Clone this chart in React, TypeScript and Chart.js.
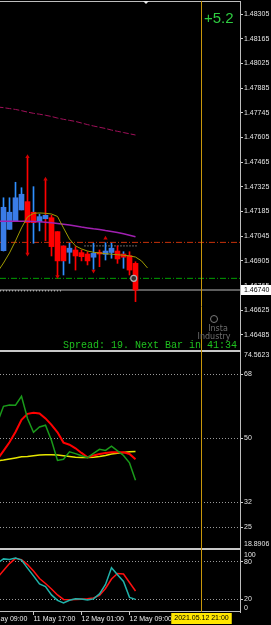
import React, { useEffect, useRef } from 'react';
import { Chart, registerables } from 'chart.js';

Chart.register(...registerables);

// ---------------- data ----------------
// H1 bars, bar index 0 = 2021.05.11 12:00
const xTickBars = [-3, 5, 13, 21];
const xTickLabels = ['11 May 09:00', '11 May 17:00', '12 May 01:00', '12 May 09:00'];
const cursorBar = 33;
const cursorLabel = '2021.05.12 21:00';
const shiftMarkerBar = 23.75;
const xMin = -0.5833;
const xMax = 39.4167;

const opens = [1.46963, 1.47084, 1.47131, 1.47194, 1.47241, 1.47181, 1.47127, 1.47144, 1.4715, 1.47071, 1.4699, 1.46954, 1.46967, 1.46952, 1.46944, 1.46926, 1.46954, 1.46942, 1.46953, 1.46961, 1.46944, 1.46935, 1.46891];
const highs = [1.47263, 1.47263, 1.47351, 1.4732, 1.47496, 1.47326, 1.47171, 1.47368, 1.47164, 1.47071, 1.4699, 1.47005, 1.46986, 1.46967, 1.46957, 1.47005, 1.46967, 1.47008, 1.47005, 1.4699, 1.46957, 1.46957, 1.469];
const lows = [1.46961, 1.47084, 1.47131, 1.47194, 1.46944, 1.47005, 1.47075, 1.4702, 1.46933, 1.46816, 1.46825, 1.46891, 1.46853, 1.46905, 1.46882, 1.46857, 1.46872, 1.4691, 1.4692, 1.46891, 1.46863, 1.46825, 1.46674];
const closes = [1.47209, 1.47181, 1.47263, 1.47283, 1.47122, 1.47122, 1.47156, 1.47164, 1.46986, 1.46905, 1.46905, 1.46977, 1.46933, 1.46929, 1.46905, 1.46948, 1.46944, 1.46961, 1.46977, 1.46916, 1.46926, 1.46853, 1.4674];
const blueWickBars = [5, 10, 20];
const redWickBars = [7];

const fractalUpBars = [4, 7, 17];
const fractalUpValues = [1.47496, 1.47368, 1.47033];
const fractalDownBars = [4, 9, 15];
const fractalDownValues = [1.46944, 1.46816, 1.46848];

const firstIndicatorBar = -1;
const maSlow = [1.47778, 1.47774, 1.47769, 1.47764, 1.47757, 1.47749, 1.47742, 1.47737, 1.47731, 1.47724, 1.47715, 1.47708, 1.47702, 1.47696, 1.47687, 1.47678, 1.4767, 1.47663, 1.47656, 1.47647, 1.4764, 1.47633, 1.47626, 1.47619];
const maMid = [1.4713, 1.4713, 1.4713, 1.4713, 1.4713, 1.4713, 1.47129, 1.47127, 1.47124, 1.47121, 1.47117, 1.47113, 1.47108, 1.47103, 1.47097, 1.47092, 1.47087, 1.47083, 1.47077, 1.47072, 1.47066, 1.47059, 1.47051, 1.47042];
const maFast = [1.46842, 1.46893, 1.4695, 1.47018, 1.47092, 1.47154, 1.47175, 1.47177, 1.47175, 1.47171, 1.47157, 1.47092, 1.47029, 1.4699, 1.46973, 1.46961, 1.46954, 1.4695, 1.46946, 1.46943, 1.4694, 1.46937, 1.46933, 1.46927, 1.46905, 1.46865];

const resistanceLevel = 1.4701;
const supportLevel = 1.46806;
const rangeTopLevel = 1.4699;
const rangeTopFrom = 13.5;
const rangeTopTo = 22.2;
const prevLowLevel = 1.46735;
const prevLowTo = 9.8;
const orderBar = 21.7;
const orderPrice = 1.46806;

const priceTicks = [1.48305, 1.48165, 1.48025, 1.47885, 1.47745, 1.47605, 1.47465, 1.47325, 1.47185, 1.47045, 1.46905, 1.46765, 1.46625, 1.46485];
const priceMin = 1.46394;
const priceMax = 1.48379;

const rsiMain = [54.5, 59.0, 59.4, 59.3, 61.8, 55.6, 51.7, 53.2, 53.7, 49.4, 43.8, 44.1, 46.2, 45.7, 45.1, 44.6, 45.8, 46.9, 46.6, 47.8, 46.5, 45.2, 43.1, 38.2];
const rsiSignal = [44.1, 46.5, 48.9, 51.8, 55.2, 56.9, 57.2, 57.0, 55.6, 53.8, 51.7, 48.8, 48.2, 47.2, 45.9, 44.7, 45.2, 45.6, 45.9, 46.1, 46.1, 46.1, 45.6, 44.1];
const rsiSlow = [43.7, 43.9, 44.2, 44.5, 44.8, 44.9, 45.1, 45.3, 45.4, 45.4, 45.3, 45.1, 44.9, 44.7, 44.6, 44.6, 44.7, 44.9, 45.2, 45.6, 45.8, 46.0, 46.2, 46.3];
const rsiTicks = [68, 50, 32, 25];
const rsiMin = 18.8906;
const rsiMax = 74.5623;

const stochMain = [77.6, 84.3, 83.2, 85.5, 82.4, 69.7, 57.4, 44.5, 40.5, 27.1, 18.4, 14.5, 18.7, 21.1, 20.8, 18.9, 20.8, 28.7, 43.7, 70.1, 59.0, 48.4, 23.2, 20.0];
const stochSignal = [54.7, 65.8, 76.8, 85.1, 83.2, 75.3, 65.0, 53.2, 45.3, 36.6, 27.1, 20.0, 19.5, 20.0, 20.3, 21.1, 22.4, 26.3, 37.4, 52.4, 61.1, 60.3, 46.8, 33.4];
const stochTicks = [80, 20];
const stochMin = 0;
const stochMax = 100;

const profitText = '+5.2';
const spreadText = 'Spread: 19. Next Bar in 41:34';

// ---------------- styles ----------------
const AXIS_FONT = "'Liberation Sans', Arial, sans-serif";
const AXIS_SIZE = 7;
const BLUE_BODY = '#3a7ce6';
const BLUE_WICK = '#2f8fff';
const RED = '#ff0000';
const AXIS_TEXT = '#e4e4e4';
const CURSOR_COLOR = '#c8960a';

const series = (arr: number[], start: number) => arr.map((v, k) => ({ x: start + k, y: v }));
const level = (v: number, from: number, to: number) => [{ x: from, y: v }, { x: to, y: v }];
const lineDs = (data: any[], color: string, width: number, axis: string, extra: any = {}) => ({
  type: 'line',
  data,
  borderColor: color,
  backgroundColor: color,
  borderWidth: width,
  pointRadius: 0,
  pointHoverRadius: 0,
  tension: 0,
  fill: false,
  yAxisID: axis,
  xAxisID: 'x',
  ...extra,
});

const decor = {
  id: 'decor',
  beforeDraw(chart: any) {
    const { ctx, width, height } = chart;
    ctx.save();
    ctx.fillStyle = '#000';
    ctx.fillRect(0, 0, width, height);
    ctx.restore();
  },
  afterDraw(chart: any) {
    const { ctx, chartArea: a, scales, width } = chart;
    const x = scales.x;
    const y = scales.y;
    const yR = scales.yR;
    const yS = scales.yS;
    ctx.save();
    ctx.setLineDash([]);

    // frame
    ctx.strokeStyle = '#bdbdbd';
    ctx.lineWidth = 1;
    ctx.beginPath();
    ctx.moveTo(a.left, a.top + 0.5);
    ctx.lineTo(a.right, a.top + 0.5);
    ctx.moveTo(a.right + 0.5, a.top);
    ctx.lineTo(a.right + 0.5, a.bottom);
    ctx.moveTo(a.left, a.bottom - 0.5);
    ctx.lineTo(a.right, a.bottom - 0.5);
    ctx.stroke();
    // panel separators
    ctx.lineWidth = 2;
    ctx.strokeStyle = '#c8c8c8';
    [y, yR].forEach((s: any) => {
      ctx.beginPath();
      ctx.moveTo(a.left, s.bottom);
      ctx.lineTo(a.right + 1, s.bottom);
      ctx.stroke();
    });

    // cursor vertical line
    const cx = Math.round(x.getPixelForValue(cursorBar)) + 0.5;
    ctx.strokeStyle = CURSOR_COLOR;
    ctx.lineWidth = 1;
    ctx.beginPath();
    ctx.moveTo(cx, a.top);
    ctx.lineTo(cx, a.bottom);
    ctx.stroke();

    // shift marker
    const sx = x.getPixelForValue(shiftMarkerBar);
    ctx.fillStyle = '#e8e8e8';
    ctx.beginPath();
    ctx.moveTo(sx - 3, a.top);
    ctx.lineTo(sx + 3, a.top);
    ctx.lineTo(sx, a.top + 3);
    ctx.closePath();
    ctx.fill();

    // profit text
    ctx.fillStyle = '#2ecc40';
    ctx.font = "15px 'Liberation Sans', sans-serif";
    ctx.textAlign = 'left';
    ctx.textBaseline = 'middle';
    ctx.fillText(profitText, a.right - 36, a.top + 18);

    // watermark
    ctx.strokeStyle = '#7a7a7a';
    ctx.fillStyle = '#6e6e6e';
    ctx.lineWidth = 1;
    ctx.beginPath();
    ctx.arc(a.right - 26, y.bottom - 32, 3.5, 0, Math.PI * 2);
    ctx.stroke();
    ctx.font = "8px 'DejaVu Sans', sans-serif";
    ctx.textAlign = 'center';
    ctx.fillText('Insta', a.right - 22, y.bottom - 22);
    ctx.fillText('Industry', a.right - 26, y.bottom - 14);

    // spread text
    ctx.fillStyle = '#1fc21f';
    ctx.font = "10px 'Liberation Mono', monospace";
    ctx.textAlign = 'right';
    ctx.textBaseline = 'middle';
    ctx.fillText(spreadText, a.right - 3, y.bottom - 6);

    // edge labels of sub-windows
    ctx.fillStyle = AXIS_TEXT;
    ctx.font = `${AXIS_SIZE}px ${AXIS_FONT}`;
    ctx.textAlign = 'left';
    ctx.fillText(yR.max.toFixed(4), a.right + 4, yR.top + 4);
    ctx.fillText(yR.min.toFixed(4), a.right + 4, yR.bottom - 5);
    ctx.fillText(String(yS.max), a.right + 4, yS.top + 6);
    ctx.fillText(String(yS.min), a.right + 4, yS.bottom - 4);

    // current price tag
    const last = closes[closes.length - 1];
    const py = Math.round(y.getPixelForValue(last));
    ctx.fillStyle = '#ffffff';
    ctx.fillRect(a.right + 1, py - 5, width - a.right - 1, 10);
    ctx.fillStyle = '#000';
    ctx.fillText(last.toFixed(5), a.right + 4, py);

    // cursor time label
    const tw = ctx.measureText(cursorLabel).width + 6;
    ctx.fillStyle = '#ffe600';
    ctx.fillRect(cx - tw / 2, a.bottom + 1, tw, 11);
    ctx.fillStyle = '#000';
    ctx.textAlign = 'center';
    ctx.fillText(cursorLabel, cx, a.bottom + 6.5);

    ctx.restore();
  },
};

export default function App() {
  const ref = useRef<HTMLCanvasElement>(null);

  useEffect(() => {
    const canvas = ref.current;
    if (!canvas) return;
    const barIdx = closes.map((_, i) => i);
    const isBull = (i: number) => closes[i] >= opens[i];
    const wickColors = barIdx.map((i) =>
      blueWickBars.includes(i) ? BLUE_WICK : redWickBars.includes(i) ? RED : isBull(i) ? BLUE_WICK : RED
    );
    const bodyColors = barIdx.map((i) => (isBull(i) ? BLUE_BODY : RED));
    const lastClose = closes[closes.length - 1];

    const datasets: any[] = [
      lineDs(level(resistanceLevel, xMin, xMax), '#c8320a', 1, 'y', { borderDash: [6, 2, 1, 2], order: 20 }),
      lineDs(level(supportLevel, xMin, xMax), '#00a000', 1, 'y', { borderDash: [6, 2, 1, 2], order: 20 }),
      lineDs(level(lastClose, xMin, xMax), '#7d7d7d', 1.6, 'y', { order: 21 }),
      lineDs(level(prevLowLevel, xMin, prevLowTo), '#d8d8d8', 1, 'y', { borderDash: [1, 2], order: 19 }),
      lineDs(level(rangeTopLevel, rangeTopFrom, rangeTopTo), '#c8c8c8', 1, 'y', { borderDash: [1, 2], order: 19 }),
      {
        type: 'bar',
        data: barIdx.map((i) => ({ x: i, y: [lows[i], highs[i]] })),
        backgroundColor: wickColors,
        borderWidth: 0,
        barThickness: 1,
        grouped: false,
        yAxisID: 'y',
        xAxisID: 'x',
        order: 11,
      },
      {
        type: 'bar',
        data: barIdx.map((i) => ({ x: i, y: [opens[i], closes[i]] })),
        backgroundColor: bodyColors,
        borderWidth: 0,
        barThickness: 5,
        grouped: false,
        yAxisID: 'y',
        xAxisID: 'x',
        order: 10,
      },
      lineDs(series(maSlow, firstIndicatorBar), '#a0105a', 1, 'y', { borderDash: [6, 2], order: 5 }),
      lineDs(series(maMid, firstIndicatorBar), '#a020b0', 1.5, 'y', { order: 5 }),
      lineDs(series(maFast, firstIndicatorBar), '#a09c00', 1, 'y', { order: 4 }),
      lineDs(fractalUpBars.map((b, k) => ({ x: b, y: fractalUpValues[k] })), RED, 0, 'y', {
        showLine: false, pointRadius: 2.5, pointStyle: 'triangle', pointBorderWidth: 0, pointBackgroundColor: '#d00000', order: 2,
      }),
      lineDs(fractalDownBars.map((b, k) => ({ x: b, y: fractalDownValues[k] })), RED, 0, 'y', {
        showLine: false, pointRadius: 2.5, pointStyle: 'triangle', rotation: 180, pointBorderWidth: 0, pointBackgroundColor: '#d00000', order: 2,
      }),
      lineDs([{ x: orderBar, y: orderPrice }], '#a0a0a0', 0, 'y', {
        showLine: false, pointRadius: 3, pointStyle: 'circle', pointBorderWidth: 1.2, pointBorderColor: '#b0b0b0', pointBackgroundColor: '#303030', order: 1,
      }),
      lineDs(series(rsiSlow, firstIndicatorBar), '#e6e600', 1.5, 'yR', { order: 6 }),
      lineDs(series(rsiSignal, firstIndicatorBar), '#ff0000', 2, 'yR', { order: 5 }),
      lineDs(series(rsiMain, firstIndicatorBar), '#1a9a1a', 1.5, 'yR', { order: 4 }),
      lineDs(series(stochSignal, firstIndicatorBar), '#ff1010', 1.5, 'yS', { order: 5 }),
      lineDs(series(stochMain, firstIndicatorBar), '#20b2aa', 1.5, 'yS', { order: 4 }),
    ];

    const yAxisBase = (extra: any) => ({
      type: 'linear',
      position: 'right',
      stack: 'panes',
      offset: false,
      beginAtZero: false,
      border: { display: true, color: '#bdbdbd' },
      afterFit: (s: any) => {
        s.width = 31;
        s.paddingTop = 0;
        s.paddingBottom = 0;
      },
      ...extra,
    });

    const tickFont = { size: AXIS_SIZE, family: AXIS_FONT };

    const chart = new Chart(canvas, {
      type: 'bar',
      data: { datasets },
      plugins: [decor],
      options: {
        animation: false,
        responsive: false,
        devicePixelRatio: 1,
        events: [],
        layout: { autoPadding: false, padding: { top: 1, left: 0, right: 0, bottom: 0 } },
        plugins: { legend: { display: false }, tooltip: { enabled: false } },
        scales: {
          x: {
            type: 'linear',
            position: 'bottom',
            min: xMin,
            max: xMax,
            offset: false,
            grid: { display: true, offset: false, drawOnChartArea: false, drawTicks: true, tickLength: 3, color: '#c8c8c8' },
            border: { display: false },
            ticks: {
              autoSkip: false,
              maxRotation: 0,
              minRotation: 0,
              align: 'start',
              padding: 0,
              color: '#ececec',
              font: tickFont,
              callback: (_v: any, i: number) => xTickLabels[i],
            },
            afterBuildTicks: (s: any) => {
              s.ticks = xTickBars.map((value) => ({ value }));
            },
            afterFit: (s: any) => {
              s.height = 13;
              s.paddingLeft = 0;
              s.paddingRight = 0;
            },
          },
          y: yAxisBase({
            stackWeight: 350,
            min: priceMin,
            max: priceMax,
            grid: { drawOnChartArea: false, drawTicks: true, tickLength: 3, color: '#d0d0d0' },
            ticks: { autoSkip: false, padding: 1, color: AXIS_TEXT, font: tickFont, callback: (v: any) => Number(v).toFixed(5) },
            afterBuildTicks: (s: any) => {
              s.ticks = priceTicks.map((value) => ({ value }));
            },
          }),
          yR: yAxisBase({
            stackWeight: 198,
            min: rsiMin,
            max: rsiMax,
            grid: { drawOnChartArea: true, drawTicks: true, tickLength: 3, color: '#9a9a9a', tickColor: '#d0d0d0' },
            border: { display: true, color: '#bdbdbd', dash: [1, 2] },
            ticks: { autoSkip: false, padding: 1, color: AXIS_TEXT, font: tickFont, callback: (v: any) => String(v) },
            afterBuildTicks: (s: any) => {
              s.ticks = rsiTicks.map((value) => ({ value }));
            },
          }),
          yS: yAxisBase({
            stackWeight: 63,
            min: stochMin,
            max: stochMax,
            grid: { drawOnChartArea: true, drawTicks: true, tickLength: 3, color: '#9a9a9a', tickColor: '#d0d0d0' },
            border: { display: true, color: '#bdbdbd', dash: [1, 2] },
            ticks: { autoSkip: false, padding: 1, color: AXIS_TEXT, font: tickFont, callback: (v: any) => String(v) },
            afterBuildTicks: (s: any) => {
              s.ticks = stochTicks.map((value) => ({ value }));
            },
          }),
        },
      } as any,
    } as any);

    return () => chart.destroy();
  }, []);

  return (
    <div style={{ position: 'fixed', left: 0, top: 0, width: 271, height: 625, background: '#000' }}>
      <canvas ref={ref} width={271} height={625} style={{ display: 'block', width: 271, height: 625 }} />
    </div>
  );
}
